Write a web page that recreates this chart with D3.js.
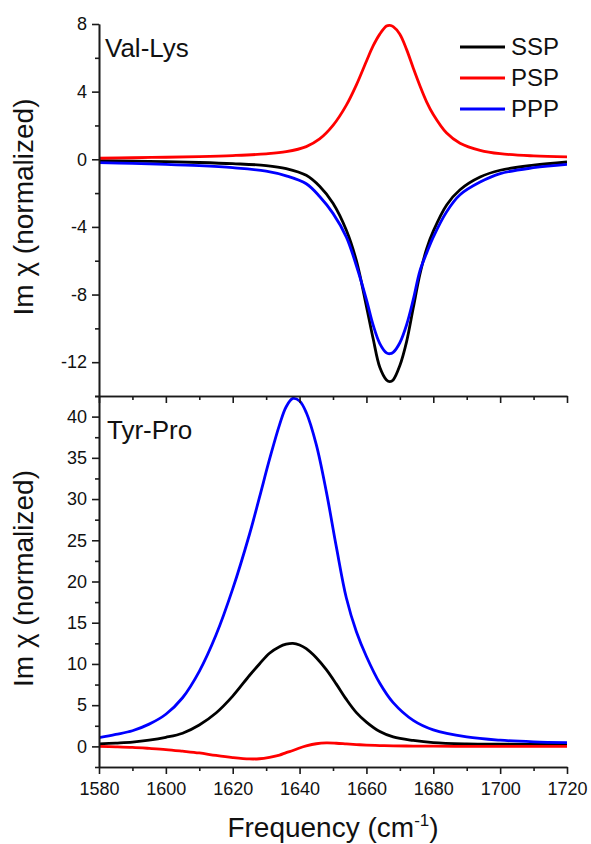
<!DOCTYPE html>
<html>
<head>
<meta charset="utf-8">
<script src="https://cdn.jsdelivr.net/npm/d3@7"></script>
<style>
  body { margin: 0; background: #fff; }
  svg { display: block; font-family: 'Liberation Sans', Arial, sans-serif; }
</style>
</head>
<body>
<svg id="chart" width="591" height="844"></svg>
<script>
// Val-Lys (top panel)
const topFreq = [1580, 1590, 1600, 1610, 1620, 1630, 1636, 1642, 1646, 1650, 1654, 1657, 1660, 1662, 1664, 1666, 1667, 1668, 1670, 1672, 1674, 1676, 1678, 1680, 1684, 1688, 1694, 1700, 1710, 1720]
const topSSP = [-0.08, -0.11, -0.14, -0.19, -0.26, -0.37, -0.55, -0.95, -1.6, -2.6, -4.2, -6.0, -8.7, -10.6, -12.3, -13.05, -13.15, -13.05, -12.2, -10.8, -8.8, -6.8, -5.3, -4.25, -2.7, -1.8, -1.05, -0.65, -0.35, -0.16]
const topPSP = [0.06, 0.09, 0.12, 0.16, 0.22, 0.32, 0.45, 0.75, 1.2, 2.0, 3.2, 4.4, 5.8, 6.7, 7.4, 7.88, 7.92, 7.85, 7.4, 6.5, 5.4, 4.35, 3.4, 2.65, 1.55, 0.95, 0.53, 0.33, 0.2, 0.14]
const topPPP = [-0.2, -0.24, -0.3, -0.38, -0.5, -0.7, -0.98, -1.45, -2.2, -3.2, -4.6, -6.3, -8.3, -9.8, -10.9, -11.45, -11.5, -11.42, -10.85, -9.8, -8.3, -6.6, -5.55, -4.6, -3.1, -2.1, -1.35, -0.85, -0.5, -0.3]

// Tyr-Pro (bottom panel)
const botFreq = [1580, 1585, 1590, 1595, 1600, 1605, 1610, 1615, 1620, 1625, 1628, 1631, 1634, 1636, 1638, 1640, 1642, 1645, 1648, 1651, 1654, 1657, 1660, 1664, 1668, 1674, 1680, 1690, 1700, 1710, 1720]
const botSSP = [0.3, 0.4, 0.52, 0.75, 1.1, 1.6, 2.6, 4.05, 6.1, 8.6, 10.0, 11.3, 12.1, 12.4, 12.5, 12.3, 11.85, 10.75, 9.3, 7.55, 5.7, 4.1, 2.95, 1.8, 1.15, 0.72, 0.45, 0.3, 0.26, 0.25, 0.25]
const botPSP = [0.0, -0.05, -0.12, -0.24, -0.38, -0.58, -0.8, -1.1, -1.35, -1.52, -1.5, -1.32, -1.05, -0.75, -0.5, -0.2, 0.05, 0.32, 0.42, 0.38, 0.3, 0.22, 0.16, 0.1, 0.07, 0.04, 0.02, 0.0, 0.0, 0.0, 0.0]
const botPPP = [1.05, 1.45, 1.9, 2.7, 3.9, 5.9, 9.1, 13.5, 19.1, 25.7, 30.2, 34.8, 39.0, 41.2, 42.2, 41.9, 40.5, 36.6, 30.9, 24.2, 18.0, 13.9, 10.9, 7.65, 5.3, 3.15, 2.0, 1.15, 0.75, 0.55, 0.45]

const seriesNames = ['SSP', 'PSP', 'PPP']
const seriesColors = ['#000000', '#ff0000', '#0000ff']

const xTicks = [1580, 1600, 1620, 1640, 1660, 1680, 1700, 1720]
const xMinor = [1590, 1610, 1630, 1650, 1670, 1690, 1710]
const topTicks = [-12, -8, -4, 0, 4, 8]
const topMinor = [-14, -10, -6, -2, 2, 6]
const botTicks = [0, 5, 10, 15, 20, 25, 30, 35, 40]
const botMinor = [-2.5, 2.5, 7.5, 12.5, 17.5, 22.5, 27.5, 32.5, 37.5, 42.5]

let svg = d3.select('#chart')

let left = 99, right = 567
let topY0 = 24, midY = 396, botY1 = 767

let x = d3.scaleLinear().domain([1580, 1720]).range([left, right])
let yTop = d3.scaleLinear().domain([-14, 8]).range([midY, topY0])
let yBot = d3.scaleLinear().domain([-2.5, 42.5]).range([botY1, midY])

let fmt = d => String(d)

function styleAxis(g) {
  g.selectAll('path, line').attr('stroke', '#1a1a1a').attr('stroke-width', 1.6)
  g.selectAll('text').attr('font-size', 18).attr('fill', '#111')
    .attr('font-family', "'Liberation Sans', Arial, sans-serif")
}

function drawPanel(name, freq, values, y, yTicks, yMinor, y0, y1) {
  let clipId = 'clip-' + name
  svg.append('clipPath').attr('id', clipId)
    .append('rect').attr('x', left).attr('y', y0 - 2).attr('width', right - left).attr('height', y1 - y0 + 4)

  let g = svg.append('g').attr('clip-path', 'url(#' + clipId + ')')
  let line = d3.line()
    .x(d => x(d[0]))
    .y(d => y(d[1]))
    .curve(d3.curveCatmullRom.alpha(0.5))

  values.forEach((vals, i) => {
    g.append('path')
      .datum(freq.map((f, j) => [f, vals[j]]))
      .attr('fill', 'none')
      .attr('stroke', seriesColors[i])
      .attr('stroke-width', 2.8)
      .attr('stroke-linejoin', 'round')
      .attr('d', line)
  })

  svg.append('g')
    .attr('transform', 'translate(' + left + ',0)')
    .call(d3.axisLeft(y).tickValues(yMinor).tickSize(4).tickSizeOuter(0).tickFormat(''))
    .call(styleAxis)
  svg.append('g')
    .attr('transform', 'translate(' + left + ',0)')
    .call(d3.axisLeft(y).tickValues(yTicks).tickSize(7).tickSizeOuter(0).tickPadding(5).tickFormat(fmt))
    .call(styleAxis)
}

drawPanel('top', topFreq, [topSSP, topPSP, topPPP], yTop, topTicks, topMinor, topY0, midY)
drawPanel('bot', botFreq, [botSSP, botPSP, botPPP], yBot, botTicks, botMinor, midY, botY1)

// separator between panels, ticks pointing down
svg.append('g')
  .attr('transform', 'translate(0,' + midY + ')')
  .call(d3.axisBottom(x).tickValues(xMinor).tickSize(4).tickSizeOuter(0).tickFormat(''))
  .call(styleAxis)
svg.append('g')
  .attr('transform', 'translate(0,' + midY + ')')
  .call(d3.axisBottom(x).tickValues(xTicks).tickSize(7).tickSizeOuter(0).tickFormat(''))
  .call(styleAxis)

// bottom x axis
svg.append('g')
  .attr('transform', 'translate(0,' + botY1 + ')')
  .call(d3.axisBottom(x).tickValues(xMinor).tickSize(4).tickSizeOuter(0).tickFormat(''))
  .call(styleAxis)
svg.append('g')
  .attr('transform', 'translate(0,' + botY1 + ')')
  .call(d3.axisBottom(x).tickValues(xTicks).tickSize(7).tickSizeOuter(0).tickPadding(8).tickFormat(fmt))
  .call(styleAxis)

// axis titles, shrunk to the length seen in the reference (~221px)
function yTitle(cy) {
  let t = svg.append('text')
    .attr('transform', 'translate(33,' + cy + ') rotate(-90)')
    .attr('text-anchor', 'middle')
    .attr('font-size', 28)
    .attr('fill', '#111')
    .text('Im χ (normalized)')
  let len = t.node().getComputedTextLength()
  if (len > 224) t.attr('font-size', 28 * 221 / len)
}
yTitle((topY0 + midY) / 2 - 3)
yTitle((midY + botY1) / 2 - 3)

let xTitle = svg.append('text')
  .attr('x', (left + right) / 2)
  .attr('y', 837)
  .attr('text-anchor', 'middle')
  .attr('font-size', 28)
  .attr('fill', '#111')
xTitle.append('tspan').text('Frequency (cm')
xTitle.append('tspan').attr('font-size', 17).attr('dy', -11).text('-1')
xTitle.append('tspan').attr('dy', 11).text(')')

// panel labels
svg.append('text').attr('x', 105).attr('y', 57).attr('font-size', 26).attr('fill', '#111').text('Val-Lys')
svg.append('text').attr('x', 107).attr('y', 439).attr('font-size', 26).attr('fill', '#111').text('Tyr-Pro')

// legend
let legend = svg.append('g')
seriesNames.forEach((name, i) => {
  let ly = 47 + i * 31
  legend.append('line')
    .attr('x1', 460).attr('x2', 505)
    .attr('y1', ly).attr('y2', ly)
    .attr('stroke', seriesColors[i])
    .attr('stroke-width', 2.8)
  legend.append('text')
    .attr('x', 511).attr('y', ly)
    .attr('dy', '0.35em')
    .attr('font-size', 24)
    .attr('fill', '#111')
    .text(name)
})
</script>
</body>
</html>
